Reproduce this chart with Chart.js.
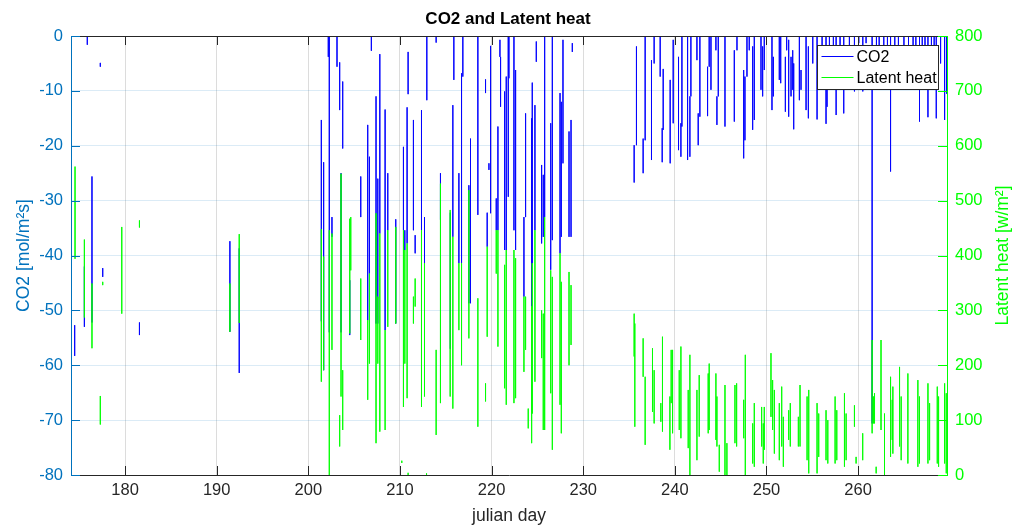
<!DOCTYPE html>
<html lang="en">
<head>
<meta charset="UTF-8">
<title>CO2 and Latent heat</title>
<style>
  html, body { margin: 0; padding: 0; background: #fff; }
  canvas { display: block; }
</style>
<script src="https://cdn.jsdelivr.net/npm/chart.js"></script>
</head>
<body>
<canvas id="chart" width="1016" height="529"></canvas>
<script>
// axis ticks
const dayTicks = [180, 190, 200, 210, 220, 230, 240, 250, 260];
const co2Ticks = [-80, -70, -60, -50, -40, -30, -20, -10, 0];
const heatTicks = [0, 100, 200, 300, 400, 500, 600, 700, 800];

// CO2 flux: [julian day, upper value, lower value]
const co2Spikes = [
  [174.5, -52.7, -58.3], [175.56, -42, -53], [175.88, 5, -1.6], [176.39, -25.6, -52.2],
  [177.3, -4.9, -5.6], [177.56, -42.3, -43.9], [181.57, -52.2, -54.5],
  [191.44, -37.4, -53.9], [192.46, -38.7, -61.4],
  [201.42, -15.3, -52], [201.67, -23, -60.9], [202.18, 5, -3.8], [202.29, 5, -54],
  [202.58, -33, -36.6], [203.13, 5, -5.6], [203.42, -4.8, -13.5], [203.57, -25, -54],
  [203.75, -8.3, -20.5], [204.52, -44.5, -54.5], [205.72, -25.6, -33], [206.48, -16.2, -51.8],
  [206.67, -22, -43.3], [206.88, 5, -2.7], [207.39, -11, -52.4], [207.58, -26, -52.4],
  [207.8, -3.3, -36], [208.38, -13.4, -53.6], [208.67, -25, -35.4], [209.54, -33.4, -52.4],
  [210.38, -20.2, -35.4], [210.53, -35.4, -39], [210.78, -13, -37.8], [210.89, -2.9, -10.6],
  [211.47, -15.3, -35.4], [211.66, -36.3, -39.6], [212.35, -13.5, -35.4], [212.68, -33, -41.4],
  [212.93, 5, -11.7], [213.95, 5, -1.2], [214.42, -25, -33.5], [215.5, -32.2, -57],
  [215.77, -12.6, -36.6], [215.88, 5, -8], [216.43, -25, -41.4], [216.72, -6.8, -41.4],
  [216.86, 5, -7.4], [217.52, -27.2, -48.7], [217.7, -18.7, -48.7], [218.5, 5, -32.6],
  [219.34, -7.9, -10.4], [219.52, -32.2, -38.4], [219.71, -23.2, -24.4], [219.89, -1.8, -32.3],
  [220.51, -29.6, -35.4], [220.69, -16.5, -35.4], [220.91, -0.7, -3.8], [220.98, -3.8, -12.9],
  [221.42, -10.1, -39], [221.6, -7.4, -39], [221.82, 5, -29.3], [221.89, 5, -7.7],
  [222.44, 5, -35.4], [222.62, -6.2, -39], [223.53, -33, -47.5], [223.71, -14.1, -33],
  [224.37, -15, -49.3], [224.44, -8.5, -41.4], [224.73, -12.6, -35.4], [224.88, -1, -4.7],
  [225.46, -23.5, -37.8], [225.64, -25.3, -36.6], [225.79, 5, -33], [226.45, -15.9, -42.6],
  [226.63, 5, -37.2], [227.47, -10.4, -39.6], [227.61, -12, -36.6], [227.79, -0.7, -23.2],
  [228.45, -17.4, -36.6], [228.67, -15.3, -36.6], [228.81, -1.3, -2.9],
  [235.56, -19.9, -26.7], [235.81, -1.9, -19.9], [236.54, -18.7, -25], [236.76, 5, -19],
  [237.45, -4.4, -22.6], [237.74, 5, -5], [238.4, 5, -7.4], [238.62, -16.8, -23],
  [238.73, -6, -17.1], [239.49, -8, -23.2], [239.82, -0.7, -15.9], [240.4, -3.8, -20.8],
  [240.66, -15.9, -22], [240.77, 5, -16.5], [241.39, 5, -22.6], [241.64, -11, -22],
  [241.75, 5, -11], [242.41, 5, -4.4], [242.55, -14.1, -19.9], [242.73, 5, -14.7],
  [243.57, -5.6, -14.6], [243.75, 5, -5.6], [243.94, 5, -9.8], [244.48, 5, -2.6],
  [244.59, -11, -16.2], [244.74, 5, -11], [245.47, 5, -16.5], [246.49, -2.6, -15.6],
  [246.78, 5, -2.6], [247.51, -6.2, -22.3], [247.65, -7.4, -19], [247.87, 5, -7.4],
  [248.12, 5, -2.6], [248.49, -1.9, -17.1], [248.67, 5, -15.3], [249.4, 5, -9.8],
  [249.58, -1.9, -11], [249.76, 5, -6.2], [250.6, 5, -13.5], [250.75, -3.8, -11],
  [251.4, 5, -8], [251.55, 5, -8.6], [252.06, -3.8, -13.8], [252.2, 5, -2.6],
  [252.42, -0.7, -14.7], [252.68, -3.8, -11], [252.86, -2.6, -9.8], [252.97, -5, -17],
  [253.59, 5, -11.7], [253.77, -6.2, -9.8], [254.32, 5, -13.5], [254.57, -1.9, -15],
  [255.05, 5, -5], [255.52, 5, -15.2], [256.07, 5, -6.2], [256.5, 5, -16],
  [256.61, -5, -12.9], [256.87, 5, -3.8], [257.3, 5, -8], [257.6, 5, -14.4],
  [258.03, 5, -5], [258.43, 5, -14.1], [259.05, 5, -9.8], [259.6, 5, -10.1],
  [260.07, 5, -1.3], [260.51, 5, -10.1], [260.87, 5, -1.3], [261.53, 5, -70.6],
  [262.0, 5, -4], [262.3, 5, -3], [262.8, 5, -5], [263.2, 5, -3], [263.54, 5, -24.7],
  [264.0, 5, -4], [264.4, 5, -3], [265.0, 5, -4], [265.5, 5, -3], [266.0, 5, -5],
  [266.3, 5, -3], [266.7, 5, -15.6], [267.0, 5, -4], [267.3, 5, -3], [267.62, 5, -14.8],
  [268.0, 5, -4], [268.3, 5, -5], [268.53, 5, -15], [269.0, 5, -5], [269.44, 5, -15.3],
  [269.65, 5, -10.5]
];

// latent heat: [julian day, upper value, lower value]
const heatSpikes = [
  [174.54, 562, 394], [175.56, 429, 287], [176.39, 349, 231], [177.3, 144, 92],
  [177.56, 352, 346], [179.64, 452, 294], [181.57, 464, 451],
  [191.44, 349, 261], [192.46, 439, 277],
  [201.42, 448, 170], [201.67, 398, 191], [202.29, 446, 0], [202.58, 440, 228],
  [203.42, 109, 52], [203.57, 549, 143], [203.75, 191, 82], [204.52, 467, 258],
  [204.63, 470, 373], [205.72, 358, 246], [206.48, 282, 137], [206.67, 367, 203],
  [207.39, 477, 58], [207.58, 325, 203], [207.8, 440, 79], [208.38, 264, 82],
  [208.67, 446, 270], [209.54, 452, 276], [210.2, 26, 22], [210.38, 446, 124],
  [210.53, 410, 203], [210.78, 422, 140], [210.89, 4, 0], [211.47, 325, 276],
  [211.66, 358, 307], [212.35, 446, 124], [212.68, 386, 143], [212.9, 3, 0],
  [213.95, 228, 73], [214.42, 531, 131], [215.48, 483, 143],
  [215.77, 434, 121], [216.43, 386, 264], [216.72, 386, 200], [217.52, 519, 249],
  [218.5, 322, 88], [219.34, 167, 134], [219.52, 416, 252], [220.51, 446, 367],
  [220.69, 446, 234], [221.42, 383, 158], [221.6, 410, 128], [222.44, 410, 131],
  [222.62, 395, 140], [223.53, 325, 188], [223.71, 325, 228], [224.0, 121, 85],
  [224.37, 307, 58], [224.44, 386, 112], [224.73, 446, 170], [225.46, 300, 213],
  [225.64, 294, 82], [225.79, 470, 82], [226.45, 373, 149], [226.63, 361, 46],
  [227.47, 404, 128], [227.61, 352, 76], [228.45, 370, 200], [228.67, 346, 237],
  [235.56, 294, 216], [235.63, 276, 88], [236.54, 249, 179], [236.76, 179, 55],
  [237.56, 231, 115], [237.74, 191, 94], [238.47, 131, 97], [238.65, 252, 79],
  [239.46, 143, 46], [239.6, 228, 131], [239.75, 228, 76], [240.48, 191, 82],
  [240.66, 234, 67], [241.46, 155, 49], [241.64, 219, 0], [242.41, 155, 27],
  [242.66, 182, 70], [243.64, 185, 76], [243.75, 203, 82], [244.48, 185, 64],
  [244.59, 143, 52], [244.85, 55, 6], [245.47, 164, 0], [245.68, 58, 0],
  [246.56, 164, 58], [246.74, 167, 52], [247.51, 137, 67], [247.69, 219, 0],
  [248.49, 94, 21], [248.67, 131, 15], [249.47, 124, 52], [249.65, 94, 21],
  [249.76, 124, 46], [250.49, 222, 106], [250.67, 173, 82], [250.86, 155, 39],
  [251.4, 131, 27], [251.66, 161, 52], [251.84, 106, 15], [252.42, 118, 64],
  [252.6, 131, 52], [253.48, 106, 52], [253.66, 164, 52], [254.43, 143, 27],
  [254.61, 155, 3], [255.52, 131, 3], [255.7, 112, 33], [256.5, 118, 27],
  [256.69, 100, 21], [257.49, 143, 21], [257.67, 118, 27], [258.51, 149, 15],
  [258.69, 112, 27], [259.6, 127, 88], [259.78, 33, 21], [260.5, 76, 27],
  [261.53, 246, 76], [261.68, 143, 94], [261.79, 149, 94], [261.97, 15, 3],
  [262.5, 246, 82], [262.88, 112, 0], [263.54, 179, 33], [263.72, 137, 64],
  [263.79, 161, 39], [264.52, 197, 52], [264.7, 143, 27], [265.43, 185, 21],
  [266.52, 173, 15], [266.7, 143, 21], [267.62, 167, 21], [267.8, 131, 27],
  [268.64, 161, 21], [268.78, 143, 15], [269.44, 167, 21], [269.62, 149, 3]
];

const dayMin = 174.1, dayMax = 269.7;
const font = '"Liberation Sans", Arial, Helvetica, sans-serif';
const co2Color = '#0072bd';
const heatColor = '#00ff00';
const darkGrey = '#262626';

// each spike is one vertical stroke, broken from the next by a gap
function strokes(list) {
  const pts = [];
  list.forEach(([d, hi, lo]) => {
    pts.push({x: d, y: hi}, {x: d, y: lo}, {x: d, y: null});
  });
  return pts;
}

// inward tick marks, box edge, right-hand label and the legend, drawn the MATLAB way
const frame = {
  id: 'frame',
  afterDraw(chart) {
    const {ctx, chartArea: a, scales} = chart;
    const len = 9;
    const seg = (x1, y1, x2, y2) => { ctx.beginPath(); ctx.moveTo(x1, y1); ctx.lineTo(x2, y2); ctx.stroke(); };
    ctx.save();
    ctx.lineWidth = 1;

    ctx.strokeStyle = darkGrey;
    seg(a.left, a.top + 0.5, a.right, a.top + 0.5);
    scales.x.ticks.forEach(t => {
      const px = Math.round(scales.x.getPixelForValue(t.value)) + 0.5;
      seg(px, a.bottom, px, a.bottom - len);
      seg(px, a.top, px, a.top + len);
    });
    ctx.strokeStyle = co2Color;
    scales.yCO2.ticks.forEach(t => {
      const py = Math.round(scales.yCO2.getPixelForValue(t.value)) + 0.5;
      seg(a.left, py, a.left + len, py);
    });
    ctx.strokeStyle = heatColor;
    scales.yHeat.ticks.forEach(t => {
      const py = Math.round(scales.yHeat.getPixelForValue(t.value)) + 0.5;
      seg(a.right, py, a.right - len, py);
    });

    // right axis label reads bottom to top, like the left one
    ctx.save();
    ctx.translate(a.right + 56, (a.top + a.bottom) / 2);
    ctx.rotate(-Math.PI / 2);
    ctx.fillStyle = heatColor;
    ctx.font = '17.5px ' + font;
    ctx.textAlign = 'center';
    ctx.textBaseline = 'middle';
    ctx.fillText('Latent heat [w/m²]', 0, 0);
    ctx.restore();

    // legend box
    const bx = a.right - 129.5, by = a.top + 9.5, bw = 121, bh = 44;
    ctx.fillStyle = '#fff';
    ctx.fillRect(bx, by, bw, bh);
    ctx.strokeStyle = darkGrey;
    ctx.strokeRect(bx, by, bw, bh);
    ctx.font = '16px ' + font;
    ctx.textBaseline = 'middle';
    ctx.textAlign = 'left';
    chart.data.datasets.forEach((ds, i) => {
      const y = by + 11 + i * 21;
      ctx.strokeStyle = ds.borderColor;
      seg(bx + 4, y, bx + 36, y);
      ctx.fillStyle = '#000';
      ctx.fillText(ds.label, bx + 39, y + 1);
    });
    ctx.restore();
  }
};

new Chart(document.getElementById('chart'), {
  type: 'line',
  data: {
    datasets: [
      { label: 'CO2', data: strokes(co2Spikes), yAxisID: 'yCO2', borderColor: '#0000ff',
        borderWidth: 0.8, pointRadius: 0, spanGaps: false, tension: 0, order: 1 },
      { label: 'Latent heat', data: strokes(heatSpikes), yAxisID: 'yHeat', borderColor: heatColor,
        borderWidth: 0.8, pointRadius: 0, spanGaps: false, tension: 0, order: 0 }
    ]
  },
  options: {
    responsive: false,
    animation: false,
    layout: { padding: 0 },
    plugins: {
      legend: { display: false },
      tooltip: { enabled: false },
      title: {
        display: true, text: 'CO2 and Latent heat', color: '#000',
        font: { family: font, size: 17, weight: 'bold' },
        padding: { top: 9, bottom: 6.6 }
      }
    },
    scales: {
      x: {
        type: 'linear', min: dayMin, max: dayMax,
        afterBuildTicks: s => { s.ticks = dayTicks.map(v => ({ value: v })); },
        afterFit: s => { s.height = 54; },
        ticks: { color: darkGrey, font: { family: font, size: 16.5 }, padding: 6, maxRotation: 0 },
        grid: { color: '#dcdcdc', drawTicks: false },
        border: { color: darkGrey },
        title: { display: true, text: 'julian day', color: darkGrey,
                 font: { family: font, size: 17.5 }, padding: { bottom: 2.5 } }
      },
      yCO2: {
        position: 'left', min: -80, max: 0,
        afterBuildTicks: s => { s.ticks = co2Ticks.map(v => ({ value: v })); },
        afterFit: s => { s.width = 71; },
        ticks: { color: co2Color, font: { family: font, size: 16.5 }, padding: 8 },
        grid: { color: 'rgba(0,114,189,0.14)', drawTicks: false },
        border: { color: co2Color },
        title: { display: true, text: 'CO2 [mol/m²s]', color: co2Color,
                 font: { family: font, size: 17.5 }, padding: { top: 13.5 } }
      },
      yHeat: {
        position: 'right', min: 0, max: 800,
        afterBuildTicks: s => { s.ticks = heatTicks.map(v => ({ value: v })); },
        afterFit: s => { s.width = 69; },
        ticks: { color: heatColor, font: { family: font, size: 16.5 }, padding: 8 },
        grid: { drawOnChartArea: false, drawTicks: false },
        border: { color: heatColor }
      }
    }
  },
  plugins: [frame]
});
</script>
</body>
</html>
